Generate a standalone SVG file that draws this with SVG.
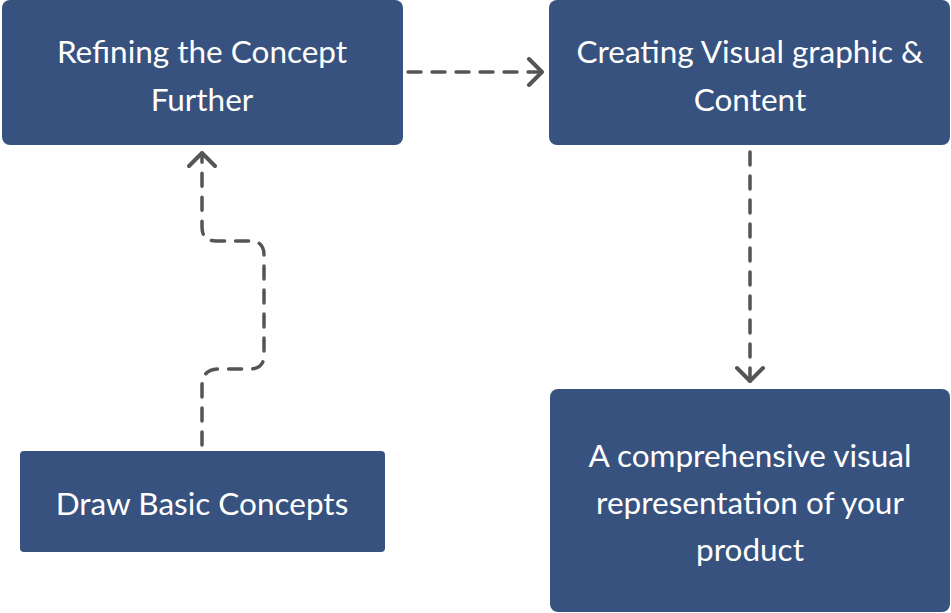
<svg xmlns="http://www.w3.org/2000/svg" width="951" height="613" viewBox="0 0 951 613">
<defs>
<style>
.node rect{fill:#37527f;}
.node text{fill:#ffffff;font-family:Lato,"Noto Sans",sans-serif;font-size:31.5px;text-anchor:middle;dominant-baseline:central;}
.conn path{fill:none;stroke:#555555;stroke-width:3.5;stroke-dasharray:13 11;stroke-linecap:round;stroke-linejoin:round;}
</style>
<marker id="arr" viewBox="0 0 30 30" refX="16" refY="15" markerWidth="30" markerHeight="30" markerUnits="userSpaceOnUse" orient="auto">
<path d="M3,2 L16,15 L3,28" fill="none" stroke="#555555" stroke-width="4" stroke-linecap="round" stroke-linejoin="round"/>
</marker>
</defs>
<rect width="951" height="613" fill="#ffffff"/>
<g class="conn">
<path d="M202,445 L202,386 Q202,369 219,369 L250,369 Q264,369 264,355 L264,255 Q264,241 250,241 L216,241 Q202,241 202,227 L202,153" marker-end="url(#arr)"/>
<path d="M408,72 L542,72" marker-end="url(#arr)"/>
<path d="M750,152 L750,381" marker-end="url(#arr)"/>
</g>
<g id="n1" class="node">
<rect x="2" y="0" width="401" height="145" rx="8"/>
<text x="202" y="51">Refining the Concept</text>
<text x="202" y="99">Further</text>
</g>
<g id="n2" class="node">
<rect x="549" y="0" width="401" height="145" rx="8"/>
<text x="750" y="51">Creating Visual graphic &amp;</text>
<text x="750" y="99">Content</text>
</g>
<g id="n3" class="node">
<rect x="20" y="451" width="365" height="101" rx="4"/>
<text x="202" y="503">Draw Basic Concepts</text>
</g>
<g id="n4" class="node">
<rect x="550" y="389" width="400" height="223" rx="8"/>
<text x="750" y="455">A comprehensive visual</text>
<text x="750" y="502">representation of your</text>
<text x="750" y="549">product</text>
</g>
</svg>
